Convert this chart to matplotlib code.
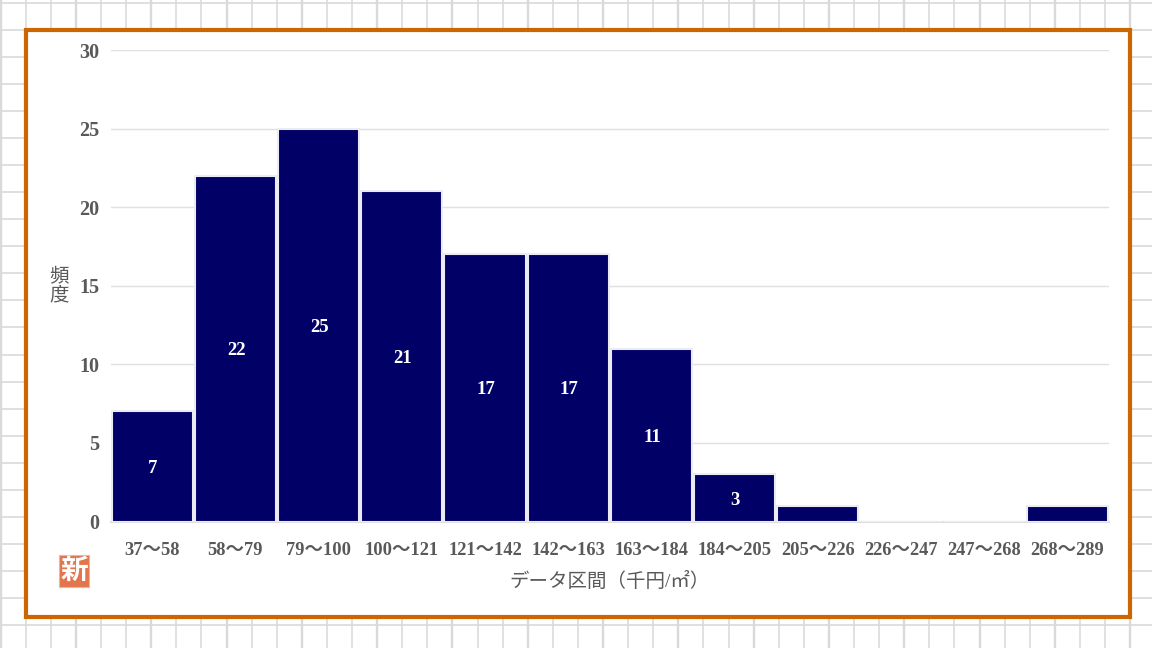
import matplotlib
matplotlib.use("Agg")
import matplotlib.pyplot as plt
from matplotlib.patches import Rectangle
import numpy as np

plt.rcParams['font.family'] = ['Liberation Serif', 'Noto Sans CJK JP', 'DejaVu Sans']

bins = ["37~58", "58~79", "79~100", "100~121", "121~142", "142~163",
        "163~184", "184~205", "205~226", "226~247", "247~268", "268~289"]
bins = [b.replace("~", "～") for b in bins]
freq = [7, 22, 25, 21, 17, 17, 11, 3, 1, 0, 0, 1]
yticks = [0, 5, 10, 15, 20, 25, 30]

W, H = 1152, 648
TEXT = "#595959"
NAVY = "#000066"
GRID = "#d9d9d9"

fig = plt.figure(figsize=(W / 100, H / 100), dpi=100)

# spreadsheet cells behind the chart, in pixel coordinates
bg = fig.add_axes([0, 0, 1, 1])
bg.set_xlim(0, W)
bg.set_ylim(H, 0)
bg.axis("off")
for i in range(46):
    bg.axvline(0.6 + 25.1 * i, color=GRID, lw=1.1 if i % 3 else 1.7)
for i in range(24):
    bg.axhline(2.5 + 27.08 * i, color=GRID, lw=1.2)
bg.add_patch(Rectangle((26, 29.5), 1104, 587.5, fc="white", ec="#cc6600", lw=3, zorder=5))

# stamp
bg.add_patch(Rectangle((59, 555), 30, 32, fc="#e2754b", ec="#f0b49c", lw=0.8, zorder=6))
bg.text(74, 571, "新", color="white", fontsize=20, fontweight="bold",
        ha="center", va="center", zorder=7, family=['Noto Sans CJK JP'])

ax = fig.add_axes([110.5 / W, 1 - 521.5 / H, 998.5 / W, 471.5 / H])
ax.patch.set_alpha(0)
x = np.arange(len(bins))
bars = ax.bar(x, freq, width=0.975, color=NAVY, edgecolor="#ebebf3", linewidth=1.5, zorder=3)
ax.set_xlim(-0.5, len(bins) - 0.5)
ax.set_ylim(0, 30)
ax.set_yticks(yticks)
ax.set_xticks(x)
ax.set_xticklabels(bins)
ax.tick_params(axis="both", length=0, colors=TEXT, labelsize=14.5)
ax.tick_params(axis="x", pad=15, labelsize=13.3)
ax.tick_params(axis="y", pad=8)
for lab in ax.get_xticklabels() + ax.get_yticklabels():
    lab.set_fontweight("bold")
ax.grid(axis="y", color="#e0e0e0", lw=1, zorder=0)
ax.set_axisbelow(True)
for side in ["top", "right", "left"]:
    ax.spines[side].set_visible(False)
ax.spines["bottom"].set_color("#e0e0e0")
ax.spines["bottom"].set_linewidth(1.5)

# labels for the single-count bars are not shown in the chart
for xi, v in zip(x, freq):
    if v > 1:
        ax.annotate(str(v), (xi, v / 2), xytext=(0.5, -1.5), textcoords="offset points",
                    color="white", fontsize=13.5, fontweight="bold",
                    ha="center", va="center", zorder=4)

ax.set_xlabel("データ区間（千円/㎡）", color=TEXT, fontsize=14, labelpad=9)
fig.text(59 / W, 1 - 286 / H, "頻\n度", color=TEXT, fontsize=14,
         ha="center", va="center", linespacing=1.05)

fig.savefig("out.png", dpi=100)
